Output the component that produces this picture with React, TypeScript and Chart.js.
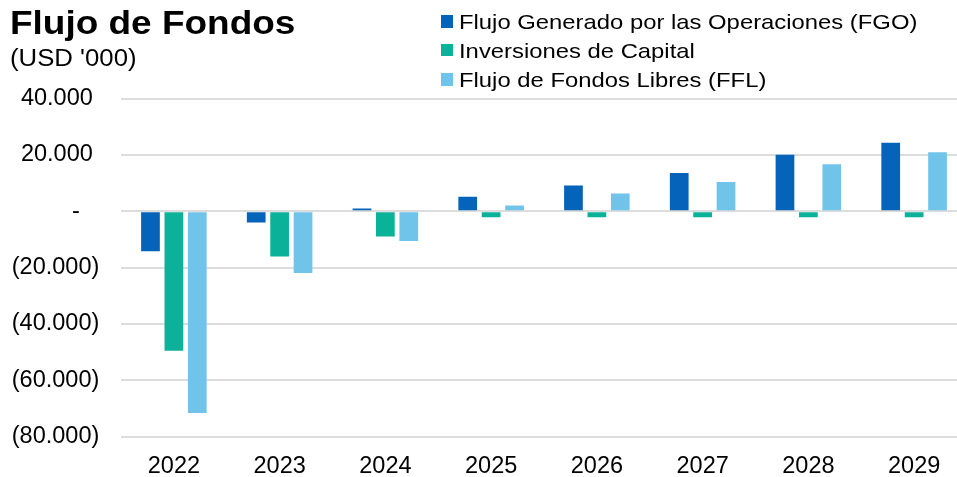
import React, { useEffect, useRef } from "react";
import { Chart, registerables } from "chart.js";

Chart.register(...registerables);

const titleText = "Flujo de Fondos";
const subtitleText = "(USD '000)";

const years = ["2022", "2023", "2024", "2025", "2026", "2027", "2028", "2029"];
const seriesNames = [
  "Flujo Generado por las Operaciones (FGO)",
  "Inversiones de Capital",
  "Flujo de Fondos Libres (FFL)",
];
const seriesColors = ["#0563B9", "#0BB29A", "#70C4EA"];

const fgoValues = [-14200, -4000, 1000, 5100, 9100, 13600, 20000, 24300];
const capexValues = [-49500, -16050, -9000, -2100, -2100, -2100, -2100, -2100];
const fflValues = [-71600, -21900, -10600, 2000, 6300, 10400, 16700, 20900];

const yMin = -80000;
const yMax = 40000;
const yStep = 20000;

const FONT = "'Liberation Sans', Arial, Helvetica, sans-serif";

function thousands(n: number): string {
  return String(Math.round(n)).replace(/\B(?=(\d{3})+(?!\d))/g, ".");
}

function accounting(v: number): string {
  if (v === 0) return "-   ";
  if (v < 0) return "(" + thousands(-v) + ")";
  return thousands(v) + " ";
}

export default function App() {
  const canvasRef = useRef<HTMLCanvasElement | null>(null);

  useEffect(() => {
    const canvas = canvasRef.current;
    if (!canvas) return;
    const allSeries = [fgoValues, capexValues, fflValues];
    const chart = new Chart(canvas, {
      type: "bar",
      data: {
        labels: years,
        datasets: allSeries.map((vals, i) => ({
          label: seriesNames[i],
          data: vals,
          backgroundColor: seriesColors[i],
          borderWidth: 0,
          categoryPercentage: 0.664,
          barPercentage: 0.8,
        })),
      },
      options: {
        responsive: false,
        animation: false,
        devicePixelRatio: 1,
        layout: { padding: { top: 98.5, left: 0, right: 0, bottom: 0 } },
        plugins: {
          legend: { display: false },
          title: { display: false },
          tooltip: { enabled: false },
        },
        scales: {
          x: {
            grid: { display: false, drawTicks: false },
            border: { display: false },
            ticks: {
              color: "#000",
              padding: 16,
              maxRotation: 0,
              font: { family: FONT, size: 23.5 },
            },
            afterFit: (scale: any) => {
              scale.height = 40.3;
            },
          },
          y: {
            min: yMin,
            max: yMax,
            grid: { color: "#DCDCDC", lineWidth: 2, drawTicks: false },
            border: { display: false },
            ticks: {
              stepSize: yStep,
              color: "#000",
              padding: 21.7,
              font: { family: FONT, size: 23.5 },
              callback: (v: any) => accounting(Number(v)),
            },
            afterFit: (scale: any) => {
              scale.width = 121;
            },
          },
        },
      },
    });
    return () => chart.destroy();
  }, []);

  const legendCenters = [21.4, 50, 79.6];

  return (
    <div
      style={{
        position: "fixed",
        left: 0,
        top: 0,
        width: 957,
        height: 477,
        overflow: "hidden",
        background: "#fff",
        fontFamily: FONT,
        color: "#000",
      }}
    >
      <canvas
        ref={canvasRef}
        width={967}
        height={477}
        style={{ position: "absolute", left: 0, top: 0, width: 967, height: 477 }}
      />
      <div
        style={{
          position: "absolute",
          left: 10,
          top: 6.4,
          fontSize: 33,
          lineHeight: "33px",
          fontWeight: "bold",
          whiteSpace: "nowrap",
          transform: "scaleX(1.12)",
          transformOrigin: "left center",
        }}
      >
        {titleText}
      </div>
      <div
        style={{
          position: "absolute",
          left: 10,
          top: 47.2,
          fontSize: 23,
          lineHeight: "23px",
          whiteSpace: "nowrap",
          transform: "scaleX(1.12)",
          transformOrigin: "left center",
        }}
      >
        {subtitleText}
      </div>
      {seriesNames.map((name, i) => (
        <React.Fragment key={name}>
          <div
            style={{
              position: "absolute",
              left: 440.7,
              top: legendCenters[i] - 6.2,
              width: 12.7,
              height: 12.4,
              background: seriesColors[i],
            }}
          />
          <div
            style={{
              position: "absolute",
              left: 459,
              top: legendCenters[i] - 10.25,
              fontSize: 21,
              lineHeight: "21px",
              whiteSpace: "nowrap",
              transform: "scaleX(1.135)",
              transformOrigin: "left center",
            }}
          >
            {name}
          </div>
        </React.Fragment>
      ))}
    </div>
  );
}
